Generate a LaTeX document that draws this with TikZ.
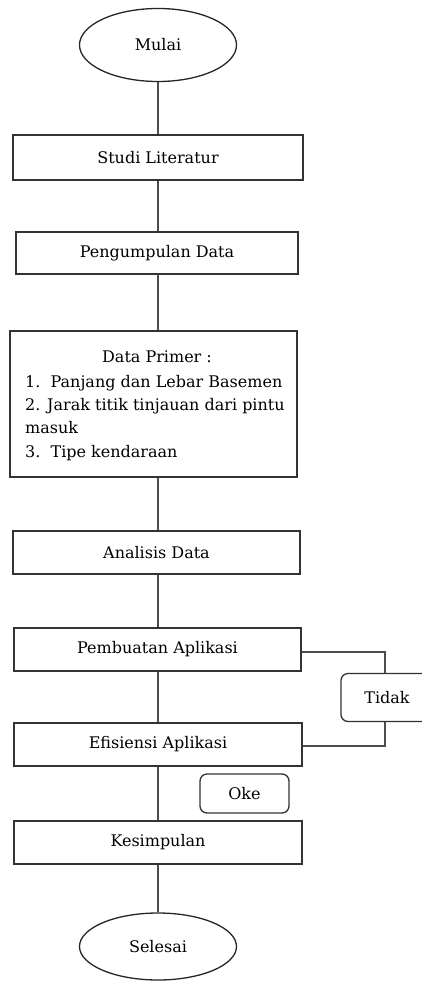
\documentclass[tikz,border=0pt]{standalone}
\usepackage{fontspec}
\setmainfont{DejaVu Serif}
\usetikzlibrary{shapes.geometric}

\tikzset{
  flowline/.style={draw=black!70, line width=1.4pt},
  procbox/.style={draw=black!80, line width=1.3pt, rectangle, fill=white,
    minimum width=288pt, minimum height=43pt, inner sep=0pt,
    font=\fontsize{16}{19}\selectfont},
  termnode/.style={draw=black!85, line width=1.3pt, ellipse, fill=white,
    minimum width=157pt, inner sep=0pt, font=\fontsize{16}{19}\selectfont},
  tagbox/.style={draw=black!80, line width=1.3pt, rectangle, rounded corners=7pt,
    fill=white, inner sep=0pt, font=\fontsize{16}{19}\selectfont},
  listtext/.style={anchor=base west, inner sep=0pt, font=\fontsize{16}{19}\selectfont}
}

\begin{document}
\begin{tikzpicture}[x=1pt, y=-1pt]
  \useasboundingbox (0,0) rectangle (422,982);

  % terminals and process steps
  \node[termnode, minimum height=73pt] (mulai) at (158,45) {Mulai};
  \node[procbox, minimum width=290pt, minimum height=45pt] (studi) at (158,157.5) {Studi Literatur};
  \node[procbox, minimum width=282pt, minimum height=42pt] (kumpul) at (157,253) {Pengumpulan Data};
  \node[procbox, minimum width=287pt, minimum height=146pt] (primer) at (153.5,404) {};
  \node[procbox, minimum width=287pt] (analisis) at (156.5,552.5) {Analisis Data};
  \node[procbox, minimum width=287pt] (buat) at (157.5,649.5) {Pembuatan Aplikasi};
  \node[procbox] (efisiensi) at (158,744.5) {Efisiensi Aplikasi};
  \node[procbox] (simpul) at (158,842.5) {Kesimpulan};
  \node[termnode, minimum height=67pt] (selesai) at (158,946.5) {Selesai};

  % contents of the primary data box
  \node[anchor=base, inner sep=0pt, font=\fontsize{16}{19}\selectfont] (judul) at (157,362) {Data Primer :};
  \node[listtext] (item1) at (25,387) {1.\ \ Panjang dan Lebar Basemen};
  \node[listtext] (item2) at (25,410) {2. Jarak titik tinjauan dari pintu};
  \node[listtext] (item2b) at (25,433) {masuk};
  \node[listtext] (item3) at (25,457) {3.\ \ Tipe kendaraan};

  % decision labels
  \node[tagbox, minimum width=92pt, minimum height=48pt] (tidak) at (387,697.5) {Tidak};
  \node[tagbox, minimum width=89pt, minimum height=39pt] (oke) at (244.5,793.5) {Oke};

  % main flow along one vertical spine
  \coordinate (spine) at (158,0);
  \draw[flowline] (spine |- mulai.south) -- (spine |- studi.north);
  \draw[flowline] (spine |- studi.south) -- (spine |- kumpul.north);
  \draw[flowline] (spine |- kumpul.south) -- (spine |- primer.north);
  \draw[flowline] (spine |- primer.south) -- (spine |- analisis.north);
  \draw[flowline] (spine |- analisis.south) -- (spine |- buat.north);
  \draw[flowline] (spine |- buat.south) -- (spine |- efisiensi.north);
  \draw[flowline] (spine |- efisiensi.south) -- (spine |- simpul.north);
  \draw[flowline] (spine |- simpul.south) -- (spine |- selesai.north);

  % loop back through "Tidak"
  \coordinate (loopx) at (385,0);
  \draw[flowline] ([yshift=-2.5pt]buat.east) -- ([yshift=-2.5pt]buat.east -| loopx) -- (loopx |- tidak.north);
  \draw[flowline] (loopx |- tidak.south) -- ([yshift=-1.5pt]efisiensi.east -| loopx) -- ([yshift=-1.5pt]efisiensi.east);
\end{tikzpicture}
\end{document}
